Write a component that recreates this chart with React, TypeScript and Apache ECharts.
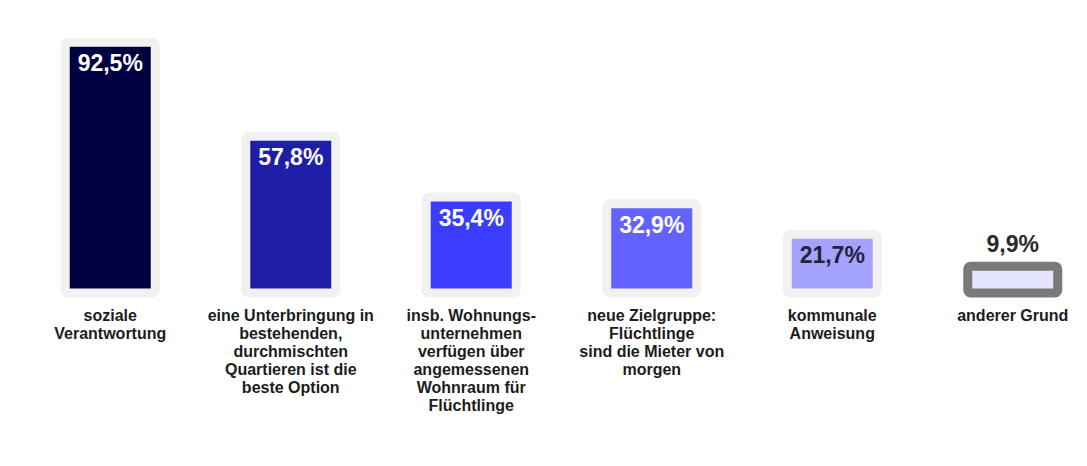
import React, { useEffect, useRef } from "react";
import * as echarts from "echarts";

const categories: string[] = [
  "soziale\nVerantwortung",
  "eine Unterbringung in\nbestehenden,\ndurchmischten\nQuartieren ist die\nbeste Option",
  "insb. Wohnungs-\nunternehmen\nverfügen über\nangemessenen\nWohnraum für\nFlüchtlinge",
  "neue Zielgruppe:\nFlüchtlinge\nsind die Mieter von\nmorgen",
  "kommunale\nAnweisung",
  "anderer Grund",
];
const values: number[] = [92.5, 57.8, 35.4, 32.9, 21.7, 9.9];
const valueLabels: string[] = ["92,5%", "57,8%", "35,4%", "32,9%", "21,7%", "9,9%"];
const barColors: string[] = ["#000040", "#1e1ea8", "#3c3cff", "#6262ff", "#a4a4ff", "#e4e4fc"];
const borderColors: string[] = ["#f1f1f1", "#f1f1f1", "#f1f1f1", "#f1f1f1", "#f1f1f1", "#7a7a7a"];
const labelColors: string[] = ["#ffffff", "#ffffff", "#ffffff", "#ffffff", "#22223a", "#2a2a2a"];
const labelPositions: string[] = ["insideTop", "insideTop", "insideTop", "insideTop", "insideTop", "top"];

export default function App() {
  const ref = useRef<HTMLDivElement>(null);
  useEffect(() => {
    if (!ref.current) return;
    const chart = echarts.init(ref.current, undefined, { renderer: "svg" });
    const font = "'Liberation Sans', Arial, sans-serif";
    chart.setOption({
      animation: false,
      grid: {
        left: 12,
        top: 14,
        right: -24,
        bottom: 165,
        containLabel: false,
        outerBoundsMode: "none",
      },
      xAxis: {
        type: "category",
        data: categories,
        axisLine: { show: false },
        axisTick: { show: false },
        axisLabel: {
          interval: 0,
          margin: 13,
          color: "#1c1c1c",
          fontFamily: font,
          fontWeight: "bold",
          fontSize: 16,
          lineHeight: 18,
          align: "center",
        },
      },
      yAxis: {
        type: "value",
        min: 0,
        max: 100,
        show: false,
        splitLine: { show: false },
      },
      series: [
        {
          type: "custom",
          data: values.map((v, i) => [i, v]),
          encode: { x: 0, y: 1 },
          renderItem: (params: any, api: any) => {
            const i = api.value(0);
            const v = api.value(1);
            const top = api.coord([i, v]);
            const base = api.coord([i, 0]);
            const w = 90;
            const pos = labelPositions[i];
            return {
              type: "rect",
              shape: {
                x: top[0] - w / 2,
                y: top[1],
                width: w,
                height: base[1] - top[1],
                r: 3,
              },
              style: {
                fill: barColors[i],
                stroke: borderColors[i],
                lineWidth: 9,
              },
              textContent: {
                style: {
                  text: valueLabels[i],
                  fill: labelColors[i],
                  fontFamily: font,
                  fontWeight: "bold",
                  fontSize: 23,
                },
              },
              textConfig: {
                position: pos === "top" ? "top" : "insideTop",
                distance: pos === "top" ? 6 : 14,
              },
            };
          },
        },
      ],
    });
    return () => chart.dispose();
  }, []);
  return <div ref={ref} style={{ width: 1071, height: 450 }} />;
}
